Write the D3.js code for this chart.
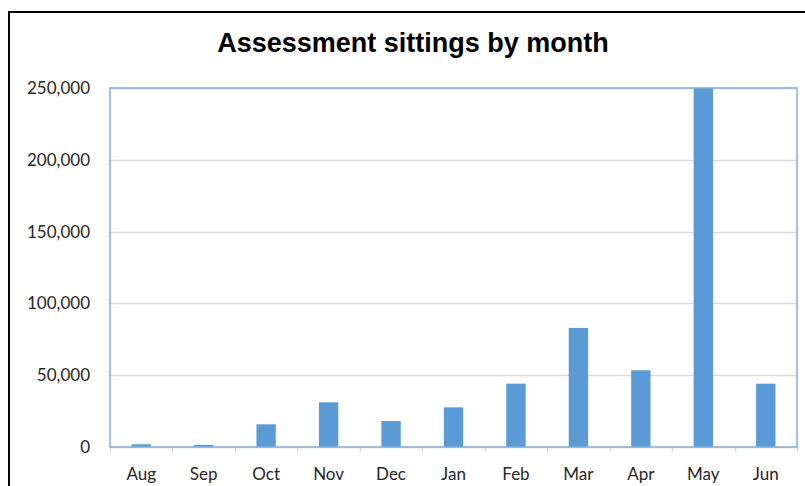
<!DOCTYPE html>
<html>
<head>
<meta charset="utf-8">
<script src="https://d3js.org/d3.v7.min.js"></script>
<style>
  body { margin: 0; background: #fff; }
</style>
</head>
<body>
<div id="chart-area"></div>
<script>
var months = ["Aug", "Sep", "Oct", "Nov", "Dec", "Jan", "Feb", "Mar", "Apr", "May", "Jun"];
var sittings = [1900, 1500, 15800, 31100, 18100, 27600, 44100, 82900, 53400, 250000, 44100];
var yTicks = [0, 50000, 100000, 150000, 200000, 250000];

var margin = {top: 88, right: 8, bottom: 39, left: 110},
    width = 805 - margin.left - margin.right,
    height = 486 - margin.top - margin.bottom;

var svg = d3.select("#chart-area")
  .append("svg")
    .attr("width", 805)
    .attr("height", 486);

// outer chart border
svg.append("rect")
  .attr("x", 9).attr("y", 12)
  .attr("width", 810).attr("height", 500)
  .attr("fill", "none")
  .attr("stroke", "#000")
  .attr("stroke-width", 2);

svg.append("text")
  .attr("x", 413)
  .attr("y", 52)
  .attr("text-anchor", "middle")
  .attr("font-family", "Liberation Sans, Arial, sans-serif")
  .attr("font-weight", "bold")
  .attr("font-size", "27px")
  .attr("fill", "#000")
  .text("Assessment sittings by month");

var g = svg.append("g")
  .attr("transform", "translate(" + margin.left + "," + margin.top + ")");

var x = d3.scaleBand()
  .domain(months)
  .range([0, width])
  .paddingInner(0.69)
  .paddingOuter(0.345);

var y = d3.scaleLinear()
  .domain([0, 250000])
  .range([height, 0]);

// gridlines
g.append("g")
  .selectAll("line")
  .data(yTicks)
  .enter()
  .append("line")
    .attr("x1", 0).attr("x2", width)
    .attr("y1", function(d) { return Math.round(y(d)) + 0.5; })
    .attr("y2", function(d) { return Math.round(y(d)) + 0.5; })
    .attr("stroke", "#d9d9d9")
    .attr("stroke-width", 1.5);

// y labels
g.append("g")
  .selectAll("text")
  .data(yTicks)
  .enter()
  .append("text")
    .attr("x", -20)
    .attr("y", function(d) { return y(d) + 6; })
    .attr("text-anchor", "end")
    .attr("font-family", "Lato, sans-serif")
    .attr("font-size", "17px")
    .attr("fill", "#262626")
    .text(function(d) { return d3.format(",")(d); });

// bars
g.append("g")
  .selectAll("rect")
  .data(sittings)
  .enter()
  .append("rect")
    .attr("x", function(d, i) { return x(months[i]); })
    .attr("y", function(d) { return y(d); })
    .attr("width", x.bandwidth())
    .attr("height", function(d) { return height - y(d); })
    .attr("fill", "#5b9bd5");

// x axis ticks
g.append("g")
  .selectAll("line")
  .data(d3.range(months.length + 1))
  .enter()
  .append("line")
    .attr("x1", function(i) { return Math.round(i * width / months.length) + 0.5; })
    .attr("x2", function(i) { return Math.round(i * width / months.length) + 0.5; })
    .attr("y1", height).attr("y2", height + 5)
    .attr("stroke", "#d9d9d9")
    .attr("stroke-width", 1.5);

g.append("g")
  .selectAll("text")
  .data(months)
  .enter()
  .append("text")
    .attr("x", function(d) { return x(d) + x.bandwidth() / 2; })
    .attr("y", height + 33)
    .attr("text-anchor", "middle")
    .attr("font-family", "Lato, sans-serif")
    .attr("font-size", "17px")
    .attr("fill", "#262626")
    .text(function(d) { return d; });

// plot area border
g.append("rect")
  .attr("x", 0).attr("y", 0)
  .attr("width", width).attr("height", height)
  .attr("fill", "none")
  .attr("stroke", "#7fb0de")
  .attr("stroke-width", 1.5);
</script>
</body>
</html>
